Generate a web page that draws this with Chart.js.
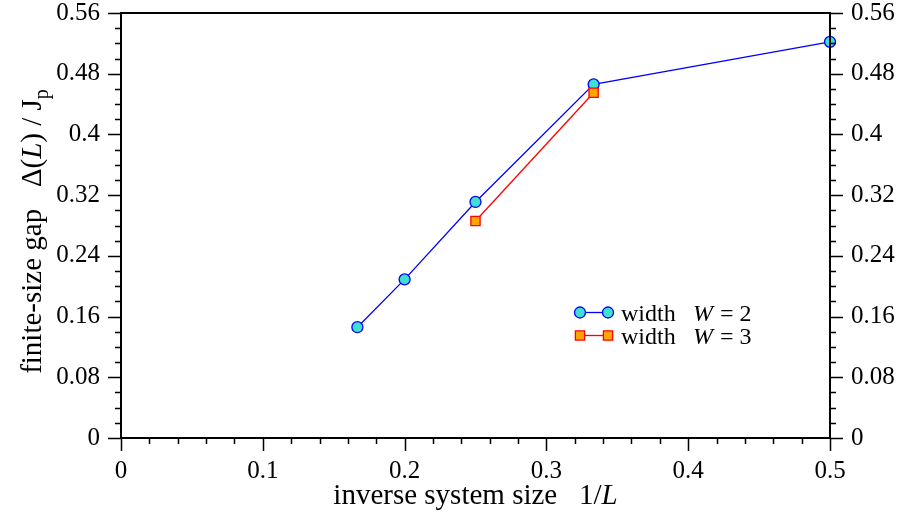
<!DOCTYPE html>
<html>
<head>
<meta charset="utf-8">
<script src="https://cdn.jsdelivr.net/npm/chart.js@4/dist/chart.umd.min.js"></script>
<style>
  html, body { margin: 0; padding: 0; background: #fff; }
  #wrap { width: 901px; height: 517px; }
</style>
</head>
<body>
<div id="wrap"><canvas id="gap"></canvas></div>
<script>
// inverse system size 1/L and finite-size gap for each width
const invL_W2 = [0.1667, 0.2, 0.25, 0.3333, 0.5];
const gap_W2  = [0.146, 0.209, 0.311, 0.466, 0.522];
const invL_W3 = [0.25, 0.3333];
const gap_W3  = [0.286, 0.455];
const seriesLabels = ['2', '3'];

const FONT = "'Liberation Serif', 'DejaVu Serif', serif";

function pts(xs, ys) { return xs.map((x, i) => ({ x: x, y: ys[i] })); }
function fmt(v) { return String(+v.toFixed(2)); }
function noPad(s) { s.paddingTop = 0; s.paddingBottom = 0; s.paddingLeft = 0; s.paddingRight = 0; }

// frame, ticks, axis titles and legend
const decor = {
  id: 'decor',
  afterDraw(chart) {
    const ctx = chart.ctx, a = chart.chartArea;
    const sx = chart.scales.x, sy = chart.scales.y;
    ctx.save();
    ctx.strokeStyle = '#000';
    ctx.lineWidth = 2;
    ctx.strokeRect(a.left, a.top, a.right - a.left, a.bottom - a.top);

    ctx.lineWidth = 1.5;
    ctx.beginPath();
    for (let i = 0; i <= 25; i++) {
      const px = Math.round(sx.getPixelForValue(i * 0.02)) + 0.5;
      const len = i % 5 === 0 ? 13 : 6;
      ctx.moveTo(px, a.bottom); ctx.lineTo(px, a.bottom + len);
    }
    for (let i = 0; i <= 28; i++) {
      const py = Math.round(sy.getPixelForValue(i * 0.02)) + 0.5;
      const len = i % 4 === 0 ? 13 : 6;
      ctx.moveTo(a.left - len, py); ctx.lineTo(a.left, py);
      ctx.moveTo(a.right, py); ctx.lineTo(a.right + len, py);
    }
    ctx.stroke();

    // x title
    ctx.fillStyle = '#000';
    ctx.textBaseline = 'alphabetic';
    const t1 = 'inverse system size   1/';
    ctx.font = 'italic 29px ' + FONT;
    const wL = ctx.measureText('L').width;
    ctx.font = '29px ' + FONT;
    const w1 = ctx.measureText(t1).width;
    const x0 = (a.left + a.right) / 2 - (w1 + wL) / 2;
    ctx.fillText(t1, x0, 504);
    ctx.font = 'italic 29px ' + FONT;
    ctx.fillText('L', x0 + w1, 504);

    // y title (rotated)
    ctx.save();
    ctx.translate(41, (a.top + a.bottom) / 2 + 6);
    ctx.rotate(-Math.PI / 2);
    const segs = [
      ['finite-size gap   \u0394(', '29px ', 0],
      ['L', 'italic 29px ', 0],
      [') / J', '29px ', 0],
      ['p', '20px ', 7]
    ];
    let tot = 0;
    segs.forEach(s => { ctx.font = s[1] + FONT; tot += ctx.measureText(s[0]).width; });
    let cx = -tot / 2;
    segs.forEach(s => {
      ctx.font = s[1] + FONT;
      ctx.fillText(s[0], cx, s[2]);
      cx += ctx.measureText(s[0]).width;
    });
    ctx.restore();

    // legend inside the plot
    const rows = [312.5, 335.5];
    chart.data.datasets.forEach((ds, i) => {
      const y = rows[i];
      ctx.strokeStyle = ds.borderColor;
      ctx.lineWidth = ds.borderWidth;
      ctx.beginPath(); ctx.moveTo(580, y); ctx.lineTo(608, y); ctx.stroke();
      ctx.fillStyle = ds.pointBackgroundColor;
      ctx.strokeStyle = ds.pointBorderColor;
      ctx.lineWidth = ds.pointBorderWidth;
      const o = { pointStyle: ds.pointStyle, radius: ds.pointRadius, rotation: 0, borderWidth: ds.pointBorderWidth };
      Chart.helpers.drawPoint(ctx, o, 580, y);
      Chart.helpers.drawPoint(ctx, o, 608, y);
      ctx.fillStyle = '#000';
      ctx.font = '24px ' + FONT;
      ctx.fillText('width', 621, y + 8);
      ctx.font = 'italic 24px ' + FONT;
      ctx.fillText('W', 693, y + 8);
      const ww = ctx.measureText('W').width;
      ctx.font = '24px ' + FONT;
      ctx.fillText(' = ' + seriesLabels[i], 693 + ww + 1, y + 8);
    });
    ctx.restore();
  }
};

const tickFont = { family: FONT, size: 25 };

new Chart(document.getElementById('gap'), {
  type: 'line',
  data: {
    datasets: [
      {
        label: 'width W = 2',
        data: pts(invL_W2, gap_W2),
        borderColor: '#0000ff',
        borderWidth: 1.3,
        pointStyle: 'circle',
        pointRadius: 5.5,
        pointBackgroundColor: '#40e0d0',
        pointBorderColor: '#0000ff',
        pointBorderWidth: 1.3,
        order: 1,
        clip: false
      },
      {
        label: 'width W = 3',
        data: pts(invL_W3, gap_W3),
        borderColor: '#ff0000',
        borderWidth: 1.3,
        pointStyle: 'rect',
        pointRadius: 6.5,
        pointBackgroundColor: '#ffa500',
        pointBorderColor: '#ff0000',
        pointBorderWidth: 1.3,
        order: 0,
        clip: false
      }
    ]
  },
  options: {
    responsive: true,
    maintainAspectRatio: false,
    animation: false,
    layout: { padding: { top: 13, left: 0, right: 0, bottom: 0 } },
    plugins: { legend: { display: false }, tooltip: { enabled: false } },
    elements: { line: { tension: 0 } },
    scales: {
      x: {
        type: 'linear', min: 0, max: 0.5,
        grid: { display: false, drawTicks: false },
        border: { display: false },
        ticks: { stepSize: 0.1, padding: 18, color: '#000', font: tickFont, callback: fmt, maxRotation: 0 },
        afterFit(s) { s.height = 79; noPad(s); }
      },
      y: {
        type: 'linear', position: 'left', min: 0, max: 0.56,
        grid: { display: false, drawTicks: false },
        border: { display: false },
        ticks: { stepSize: 0.08, padding: 21, color: '#000', font: tickFont, callback: fmt },
        afterFit(s) { s.width = 121; noPad(s); }
      },
      y2: {
        type: 'linear', position: 'right', min: 0, max: 0.56,
        grid: { display: false, drawTicks: false },
        border: { display: false },
        ticks: { stepSize: 0.08, padding: 21, color: '#000', font: tickFont, callback: fmt },
        afterFit(s) { s.width = 71; noPad(s); }
      }
    }
  },
  plugins: [decor]
});
</script>
</body>
</html>
